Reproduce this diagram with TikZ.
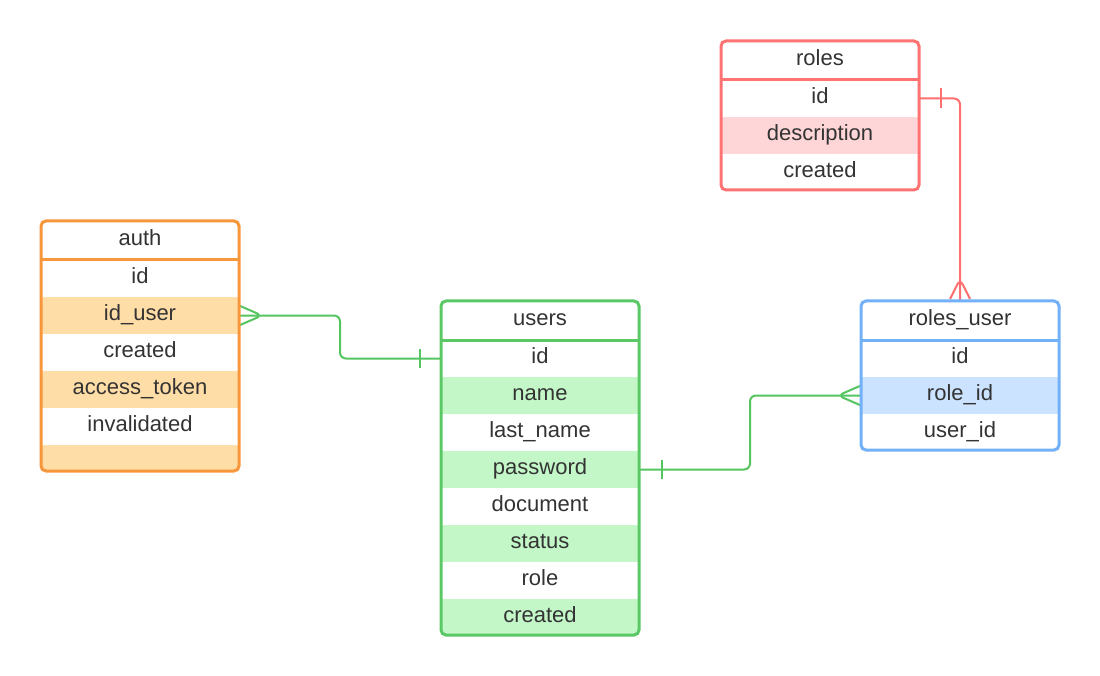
\documentclass[tikz,border=0pt]{standalone}
\usepackage{fontspec}
\setmainfont{Liberation Sans}
\usetikzlibrary{calc}
\definecolor{txt}{HTML}{333333}
\definecolor{orgB}{HTML}{F8963C}
\definecolor{orgF}{HTML}{FFDDA6}
\definecolor{grnB}{HTML}{5BC866}
\definecolor{grnF}{HTML}{C3F7C8}
\definecolor{redB}{HTML}{FF7373}
\definecolor{redF}{HTML}{FFD6D8}
\definecolor{bluB}{HTML}{72B1F7}
\definecolor{bluF}{HTML}{CCE3FF}
\definecolor{grnL}{HTML}{55C560}
\definecolor{redL}{HTML}{FF6F6F}
\tikzset{
  erow/.style={draw=none, minimum width=198pt, minimum height=37pt, inner sep=0pt, outer sep=0pt,
    text=txt, font=\fontsize{22}{26}\selectfont, text height=15.5pt, text depth=5pt, anchor=north west},
  ehead/.style={erow, minimum height=39pt},
  frame/.style={line width=3pt, rounded corners=5pt},
  sepline/.style={line width=3pt},
  conn/.style={line width=2pt, rounded corners=6pt},
}
\begin{document}
\begin{tikzpicture}[x=1pt,y=-1pt]
\useasboundingbox (0,0) rectangle (1100,676);
\fill[white] (0,0) rectangle (1100,676);

% ---------- roles ----------
\node[ehead] (roles-h) at (721,41) {roles};
\node[erow] (roles-id) at (721,80) {id};
\node[erow, fill=redF] (roles-desc) at (721,117) {description};
\node[erow, minimum height=36pt] (roles-created) at (721,154) {created};

% ---------- auth ----------
\node[ehead] (auth-h) at (41,221) {auth};
\node[erow] (auth-id) at (41,260) {id};
\node[erow, fill=orgF] (auth-iduser) at (41,297) {id\_user};
\node[erow] (auth-created) at (41,334) {created};
\node[erow, fill=orgF] (auth-token) at (41,371) {access\_token};
\node[erow] (auth-inval) at (41,408) {invalidated};
\node[erow, fill=orgF, minimum height=26pt] (auth-empty) at (41,445) {};

% ---------- users ----------
\node[ehead] (users-h) at (441,301) {users};
\node[erow] (users-id) at (441,340) {id};
\node[erow, fill=grnF] (users-name) at (441,377) {name};
\node[erow] (users-last) at (441,414) {last\_name};
\node[erow, fill=grnF] (users-password) at (441,451) {password};
\node[erow] (users-doc) at (441,488) {document};
\node[erow, fill=grnF] (users-status) at (441,525) {status};
\node[erow] (users-role) at (441,562) {role};
\node[erow, fill=grnF, minimum height=36pt] (users-created) at (441,599) {created};

% ---------- roles_user ----------
\node[ehead] (ru-h) at (861,301) {roles\_user};
\node[erow] (ru-id) at (861,340) {id};
\node[erow, fill=bluF] (ru-roleid) at (861,377) {role\_id};
\node[erow, minimum height=36pt] (ru-userid) at (861,414) {user\_id};

% ---------- connectors ----------
% auth.id_user  >--|  users.id
\coordinate (j1) at (340,0);
\draw[conn, grnL] (auth-iduser.east) -| (j1 |- users-id.west) -- (users-id.west);
\draw[conn, grnL] ([yshift=10pt]auth-iduser.east) -- ([xshift=23pt]auth-iduser.east) -- ([yshift=-10pt]auth-iduser.east);
\draw[conn, grnL] ([xshift=-21pt,yshift=9.5pt]users-id.west) -- ([xshift=-21pt,yshift=-9.5pt]users-id.west);

% users.password  |--<  roles_user.role_id
\coordinate (j2) at (750,0);
\draw[conn, grnL] (users-password.east) -| (j2 |- ru-roleid.west) -- (ru-roleid.west);
\draw[conn, grnL] ([xshift=23pt,yshift=9.5pt]users-password.east) -- ([xshift=23pt,yshift=-9.5pt]users-password.east);
\draw[conn, grnL] ([yshift=10pt]ru-roleid.west) -- ([xshift=-23pt]ru-roleid.west) -- ([yshift=-10pt]ru-roleid.west);

% roles.id  |--<  roles_user (top)
\draw[conn, redL] (roles-id.east) -| (ru-h.north);
\draw[conn, redL] ([xshift=22pt,yshift=10pt]roles-id.east) -- ([xshift=22pt,yshift=-10pt]roles-id.east);
\draw[conn, redL] ([xshift=-10pt,yshift=2pt]ru-h.north) -- ([yshift=22pt]ru-h.north) -- ([xshift=10pt,yshift=2pt]ru-h.north);

% ---------- frames ----------
\draw[frame, redB] (721,41) rectangle (919,190);
\draw[sepline, redB] (721,80) -- (919,80);
\draw[frame, orgB] (41,221) rectangle (239,471);
\draw[sepline, orgB] (41,260) -- (239,260);
\draw[frame, grnB] (441,301) rectangle (639,635);
\draw[sepline, grnB] (441,340) -- (639,340);
\draw[frame, bluB] (861,301) rectangle (1059,450);
\draw[sepline, bluB] (861,340) -- (1059,340);
\end{tikzpicture}
\end{document}
